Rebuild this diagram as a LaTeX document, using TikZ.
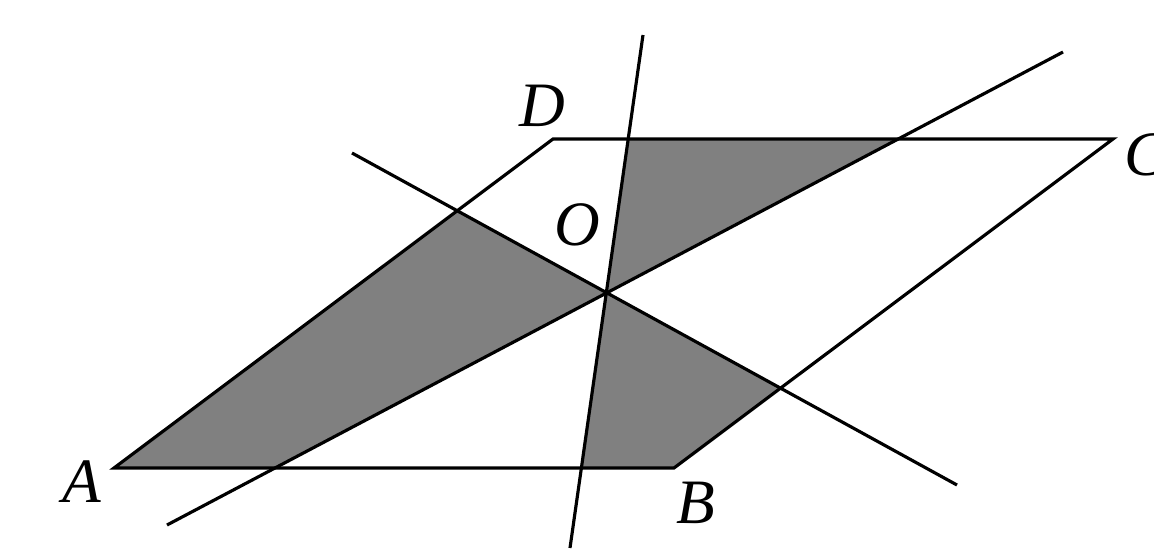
\documentclass[tikz,border=0pt]{standalone}
\usepackage{fontspec}
\setmainfont{Liberation Serif}
\usetikzlibrary{calc}

\begin{document}
\begin{tikzpicture}[line width=0.9pt,
	lbl/.style={font=\fontsize{18}{20}\selectfont\itshape, inner sep=0pt}]
	\useasboundingbox (0,0) rectangle (11.54,5.53);
	% parallelogram
	\coordinate (A) at (1.14,0.85);
	\coordinate (B) at (6.74,0.85);
	\coordinate (C) at (11.13,4.14);
	\coordinate (D) at (5.53,4.14);
	% ends of the three lines
	\coordinate (L1a) at (1.67,0.28);
	\coordinate (L1b) at (10.63,5.01);
	\coordinate (L2a) at (3.52,4.00);
	\coordinate (L2b) at (9.57,0.68);
	\coordinate (L3a) at (6.43,5.18);
	\coordinate (L3b) at (5.70,0.05);
	\coordinate (O) at (intersection of L1a--L1b and L2a--L2b);
	\coordinate (P) at (intersection of A--D and L2a--L2b);
	\coordinate (Q) at (intersection of B--C and L2a--L2b);
	\coordinate (G) at (intersection of A--B and L1a--L1b);
	\coordinate (F) at (intersection of D--C and L1a--L1b);
	\coordinate (E) at (intersection of D--C and L3a--L3b);
	\coordinate (H) at (intersection of A--B and L3a--L3b);
	% shaded parts
	\fill[gray] (A) -- (P) -- (O) -- (G) -- cycle;
	\fill[gray] (O) -- (E) -- (F) -- cycle;
	\fill[gray] (O) -- (H) -- (B) -- (Q) -- cycle;
	\draw (A) -- (B) -- (C) -- (D) -- cycle;
	\draw (L1a) -- (L1b);
	\draw (L2a) -- (L2b);
	\draw (L3a) -- (L3b);
	\node[lbl] (a) at (0.82,0.71) {A};
	\node[lbl] (b) at (6.96,0.50) {B};
	\node[lbl] (c) at (11.46,3.98) {C};
	\node[lbl] (d) at (5.42,4.47) {D};
	\node[lbl] (o) at (5.77,3.28) {O};
\end{tikzpicture}
\end{document}
